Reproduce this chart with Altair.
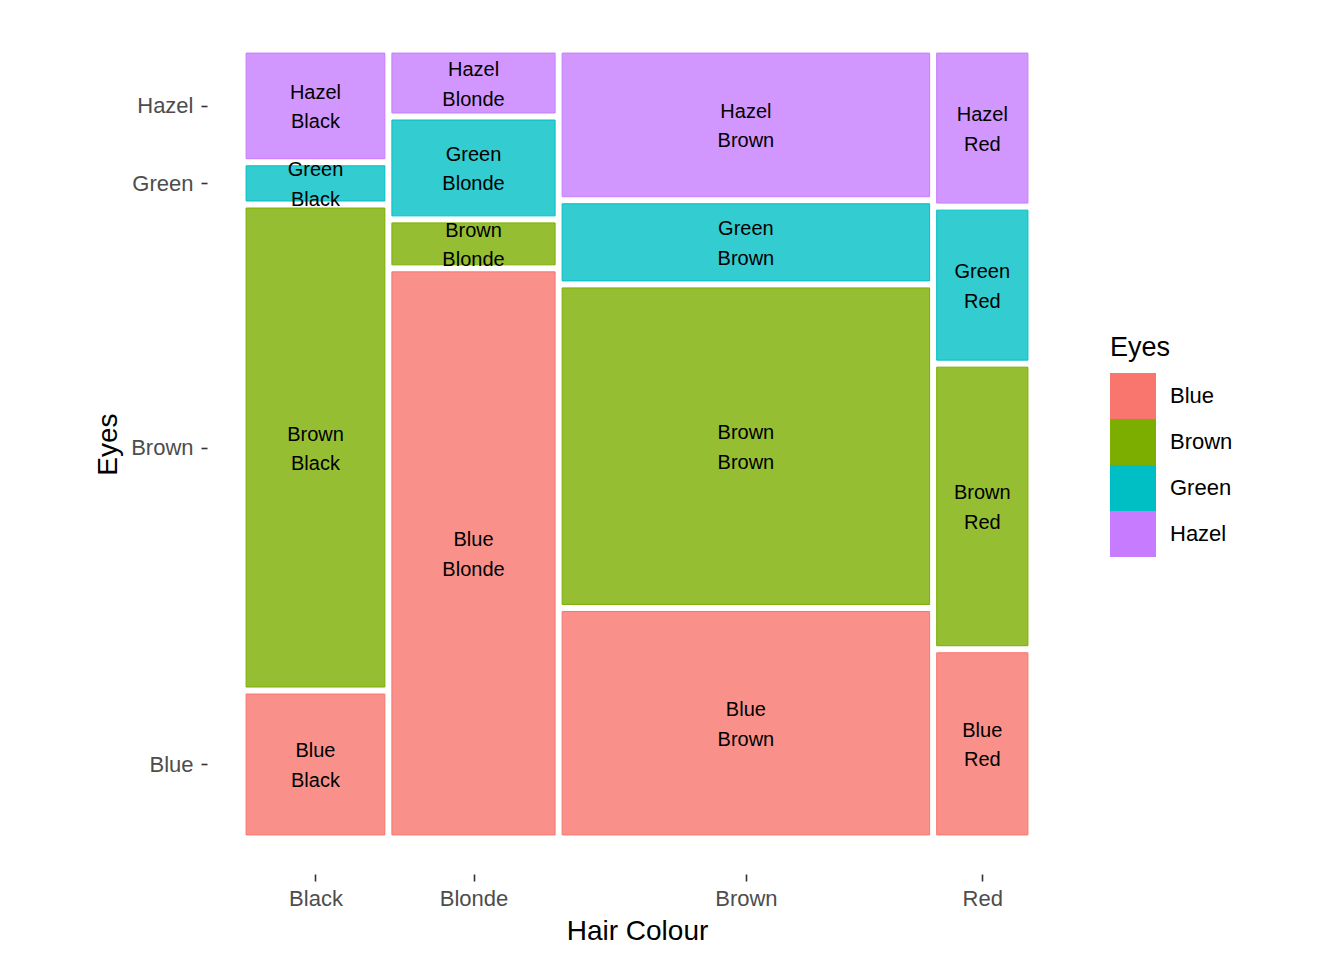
import altair as alt
import pandas as pd

hair = ["Black", "Blonde", "Brown", "Red"]
eyes = ["Blue", "Brown", "Green", "Hazel"]
counts_black = [20, 68, 5, 15]
counts_blonde = [94, 7, 16, 10]
counts_brown = [84, 119, 29, 54]
counts_red = [17, 26, 14, 14]
colors = ["#F8766D", "#7CAE00", "#00BFC4", "#C77CFF"]

counts = [counts_black, counts_blonde, counts_brown, counts_red]
gap = 0.009

total = sum(sum(c) for c in counts)
rows = []
x_centers = []
x0 = 0.0
for i, h in enumerate(hair):
    col_tot = sum(counts[i])
    w = col_tot / total * (1 - gap * (len(hair) - 1))
    x1 = x0 + w
    x_centers.append((x0 + x1) / 2)
    y0 = 0.0
    for j, e in enumerate(eyes):
        hgt = counts[i][j] / col_tot * (1 - gap * (len(eyes) - 1))
        y1 = y0 + hgt
        rows.append(dict(hair=h, eye=e, x=x0, x2=x1, y=y0, y2=y1,
                         xm=(x0 + x1) / 2, ym=(y0 + y1) / 2,
                         label=e + "\n" + h))
        y0 = y1 + gap
    x0 = x1 + gap

df = pd.DataFrame(rows)
y_centers = list(df[df.hair == hair[0]].ym)


def label_expr(centers, names):
    expr = "'" + names[-1] + "'"
    for k in range(len(names) - 2, -1, -1):
        t = (centers[k] + centers[k + 1]) / 2
        expr = f"datum.value < {t:.5f} ? '{names[k]}' : ({expr})"
    return expr


font = "Liberation Sans"
xscale = alt.Scale(domain=[-0.05, 1.05], nice=False, zero=False)
yscale = alt.Scale(domain=[-0.05, 1.05], nice=False, zero=False)
cscale = alt.Scale(domain=eyes, range=colors)

rects = alt.Chart(df).mark_rect(fillOpacity=0.8, strokeWidth=1, strokeOpacity=1).encode(
    x=alt.X("x:Q", scale=xscale,
            axis=alt.Axis(title="Hair Colour", values=x_centers,
                          labelExpr=label_expr(x_centers, hair),
                          grid=False, domain=False, ticks=True, tickSize=7,
                          tickWidth=1.6, tickColor="#333333",
                          labelColor="#4D4D4D", labelFontSize=22, labelFont=font,
                          labelPadding=7, titleFontSize=28, titleFont=font,
                          titleFontWeight="normal", titleColor="#000000",
                          titlePadding=8, labelFlush=False, labelOverlap=False)),
    x2="x2:Q",
    y=alt.Y("y:Q", scale=yscale,
            axis=alt.Axis(title="Eyes", values=y_centers,
                          labelExpr=label_expr(y_centers, eyes),
                          grid=False, domain=False, ticks=True, tickSize=6,
                          tickWidth=1.6, tickColor="#333333",
                          labelColor="#4D4D4D", labelFontSize=22, labelFont=font,
                          labelPadding=8, titleFontSize=28, titleFont=font,
                          titleFontWeight="normal", titleColor="#000000",
                          titlePadding=8, labelFlush=False, labelOverlap=False)),
    y2="y2:Q",
    fill=alt.Fill("eye:N", scale=cscale,
                  legend=alt.Legend(title="Eyes", orient="none", legendX=903, legendY=321,
                                    symbolType="square", symbolSize=2116,
                                    symbolStrokeWidth=0, symbolOpacity=1,
                                    labelFontSize=22, labelFont=font, labelColor="#000000",
                                    labelOffset=14, rowPadding=0,
                                    titleFontSize=27, titleFont=font,
                                    titleFontWeight="normal", titleColor="#000000",
                                    titlePadding=11)),
    stroke=alt.Stroke("eye:N", scale=cscale, legend=None),
)

texts = alt.Chart(df).mark_text(fontSize=20, font=font, color="#000000",
                                lineBreak="\n", lineHeight=29.5, dy=-13,
                                align="center", baseline="middle").encode(
    x=alt.X("xm:Q", scale=xscale),
    y=alt.Y("ym:Q", scale=yscale),
    text="label:N",
)

chart = alt.layer(rects, texts).properties(
    width=860, height=860,
    autosize=alt.AutoSizeParams(type="none"),
    padding={"left": 199, "top": 6, "right": 260, "bottom": 80},
).configure(background="#FFFFFF").configure_view(stroke=None, strokeWidth=0)

chart.save("out.html", embed_options={"renderer": "svg", "actions": False})
